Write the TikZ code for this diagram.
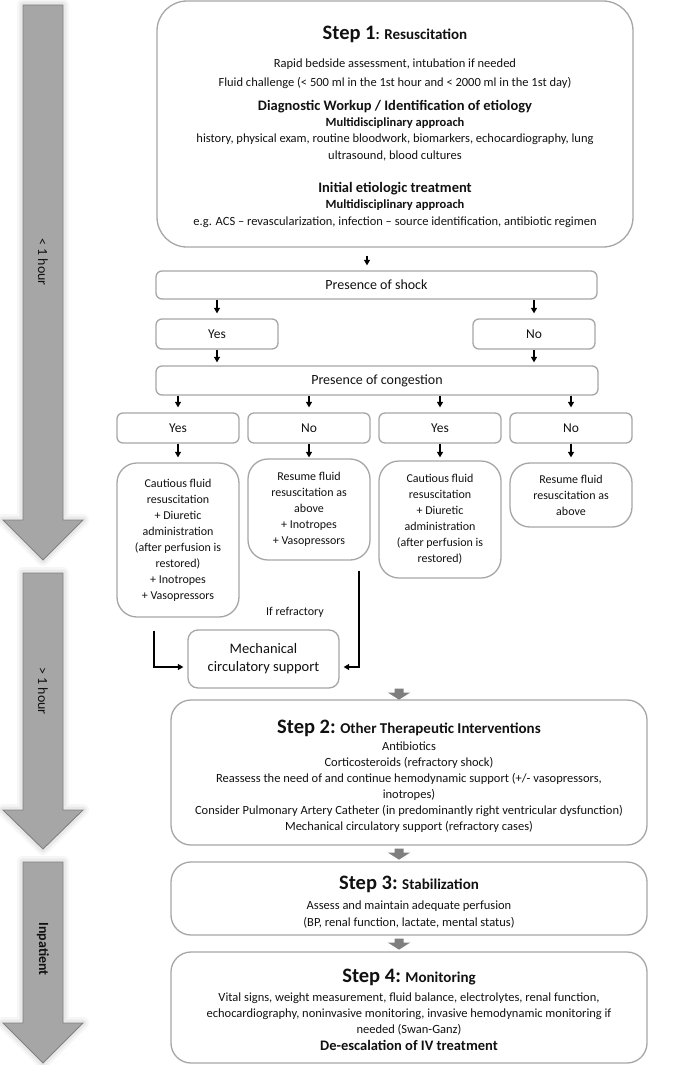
\documentclass[tikz,border=0pt]{standalone}
\usepackage{fontspec}
\setmainfont{Carlito}
\usetikzlibrary{arrows.meta}
\definecolor{boxline}{HTML}{A6A6A6}
\definecolor{bigfill}{HTML}{A6A6A6}
\definecolor{bigline}{HTML}{808080}
\definecolor{blockgrey}{HTML}{7F7F7F}
\definecolor{txt}{HTML}{111111}
\newcommand\fsz[2]{\fontsize{#1}{#2}\selectfont}
\begin{document}
\begin{tikzpicture}[x=1pt,y=-1pt,
  box/.style={draw=boxline, line width=1.3pt, rounded corners=#1, inner sep=0pt, text=txt, align=center},
  box/.default=6pt,
  arr/.style={draw=black, line width=1.1pt, -{Triangle[length=5.5pt,width=6pt]}},
  lbl/.style={anchor=base, inner sep=0pt, text=txt},
  bodytxt/.style={lbl, font=\fsz{12.5}{16}},
  hdtxt/.style={lbl, font=\fsz{14.5}{17}\bfseries},
  subhd/.style={lbl, font=\fsz{12.5}{15}\bfseries},
  bigarrow/.style={fill=bigfill, draw=bigline, line width=0.9pt},
  glow/.style={draw=black, opacity=#1, line join=round},
  blockarr/.style={fill=blockgrey}
]
\useasboundingbox (0,0) rectangle (685,1065);

% ---------- big time arrows ----------
\foreach \t/\b/\p in {5/520/560, 573/810/849, 862/1023/1063} {
  \draw[glow=0.035, line width=12pt] (23,\t) -- (63,\t) -- (63,\b) -- (83,\b) -- (43,\p) -- (3,\b) -- (23,\b) -- cycle;
  \draw[glow=0.05, line width=7pt] (23,\t) -- (63,\t) -- (63,\b) -- (83,\b) -- (43,\p) -- (3,\b) -- (23,\b) -- cycle;
  \draw[bigarrow] (23,\t) -- (63,\t) -- (63,\b) -- (83,\b) -- (43,\p) -- (3,\b) -- (23,\b) -- cycle;
}
\node[rotate=-90, font=\fsz{14}{16}, text=txt] (t1) at (43,262) {< 1 hour};
\node[rotate=-90, font=\fsz{14}{16}, text=txt] (t2) at (43,691) {> 1 hour};
\node[rotate=-90, font=\fsz{14}{16}\bfseries, text=txt] (t3) at (43,949) {Inpatient};

% ---------- Step 1 ----------
\node[box=30pt, minimum width=476pt, minimum height=246pt] (s1) at (395,124) {};
\node[lbl] (s1t) at (395,40) {{\fsz{20.5}{24}\bfseries Step 1}{\fsz{15}{18}\bfseries: Resuscitation}};
\node[bodytxt] (s1a) at (395,67) {Rapid bedside assessment, intubation if needed};
\node[bodytxt] (s1b) at (395,86) {Fluid challenge (< 500 ml in the 1st hour and < 2000 ml in the 1st day)};
\node[hdtxt] (s1c) at (395,110) {Diagnostic Workup / Identification of etiology};
\node[subhd] (s1d) at (395,126) {Multidisciplinary approach};
\node[bodytxt] (s1e) at (395,142) {history, physical exam, routine bloodwork, biomarkers, echocardiography, lung};
\node[bodytxt] (s1f) at (395,159) {ultrasound, blood cultures};
\node[hdtxt] (s1g) at (395,192) {Initial etiologic treatment};
\node[subhd] (s1h) at (395,208) {Multidisciplinary approach};
\node[bodytxt] (s1i) at (395,225) {e.g. ACS – revascularization, infection – source identification, antibiotic regimen};

% ---------- decision boxes ----------
\node[box, minimum width=441pt, minimum height=28pt, font=\fsz{14}{17}] (shock) at (376.5,285) {Presence of shock};
\node[box, minimum width=122pt, minimum height=30pt, font=\fsz{13.5}{16}] (sy) at (217,334) {Yes};
\node[box, minimum width=122pt, minimum height=30pt, font=\fsz{13.5}{16}] (sn) at (534,334) {No};
\node[box, minimum width=442pt, minimum height=29pt, font=\fsz{14}{17}] (cong) at (377,380.5) {Presence of congestion};
\node[box, minimum width=122pt, minimum height=30pt, font=\fsz{13.5}{16}] (y1) at (178,428) {Yes};
\node[box, minimum width=122pt, minimum height=30pt, font=\fsz{13.5}{16}] (n1) at (309,428) {No};
\node[box, minimum width=122pt, minimum height=30pt, font=\fsz{13.5}{16}] (y2) at (440,428) {Yes};
\node[box, minimum width=122pt, minimum height=30pt, font=\fsz{13.5}{16}] (n2) at (571,428) {No};

% ---------- outcome boxes ----------
\node[box=20pt, minimum width=122pt, minimum height=154pt, font=\fsz{12}{16}] (c1) at (178,540)
  {Cautious fluid\\resuscitation\\+ Diuretic\\administration\\(after perfusion is\\restored)\\+ Inotropes\\+ Vasopressors};
\node[box=20pt, minimum width=122pt, minimum height=101pt, font=\fsz{12}{16}] (r1) at (309,509.5)
  {Resume fluid\\resuscitation as\\above\\+ Inotropes\\+ Vasopressors};
\node[box=20pt, minimum width=122pt, minimum height=117pt, font=\fsz{12}{16}] (c2) at (440,519.5)
  {Cautious fluid\\resuscitation\\+ Diuretic\\administration\\(after perfusion is\\restored)};
\node[box=20pt, minimum width=122pt, minimum height=64pt, font=\fsz{12}{16}] (r2) at (571,495)
  {Resume fluid\\resuscitation as\\above};

\node[box=10pt, minimum width=151pt, minimum height=58pt, font=\fsz{14.5}{18}] (mcs) at (263.5,659)
  {Mechanical\\circulatory support};
\node[font=\fsz{12}{14}, text=txt, inner sep=0pt] (ifr) at (295,612) {If refractory};

% ---------- Steps 2-4 ----------
\node[box=20pt, minimum width=476pt, minimum height=145pt] (s2) at (409,772.5) {};
\node[lbl] (s2t) at (409,733) {{\fsz{20.5}{24}\bfseries Step 2:}{\fsz{15}{18}\bfseries{} Other Therapeutic Interventions}};
\node[bodytxt] (s2a) at (409,750) {Antibiotics};
\node[bodytxt] (s2b) at (409,766) {Corticosteroids (refractory shock)};
\node[bodytxt] (s2c) at (409,782) {Reassess the need of and continue hemodynamic support (+/- vasopressors,};
\node[bodytxt] (s2d) at (409,798) {inotropes)};
\node[bodytxt] (s2e) at (409,814) {Consider Pulmonary Artery Catheter (in predominantly right ventricular dysfunction)};
\node[bodytxt] (s2f) at (409,830) {Mechanical circulatory support (refractory cases)};

\node[box=20pt, minimum width=476pt, minimum height=73pt] (s3) at (409,898.5) {};
\node[lbl] (s3t) at (409,889) {{\fsz{20.5}{24}\bfseries Step 3:}{\fsz{15}{18}\bfseries{} Stabilization}};
\node[bodytxt] (s3a) at (409,909) {Assess and maintain adequate perfusion};
\node[bodytxt] (s3b) at (409,926) {(BP, renal function, lactate, mental status)};

\node[box=20pt, minimum width=476pt, minimum height=111pt] (s4) at (409,1007.5) {};
\node[lbl] (s4t) at (409,982) {{\fsz{20.5}{24}\bfseries Step 4:}{\fsz{15}{18}\bfseries{} Monitoring}};
\node[bodytxt] (s4a) at (409,1001) {Vital signs, weight measurement, fluid balance, electrolytes, renal function,};
\node[bodytxt] (s4b) at (409,1017) {echocardiography, noninvasive monitoring, invasive hemodynamic monitoring if};
\node[bodytxt] (s4c) at (409,1033) {needed (Swan-Ganz)};
\node[hdtxt] (s4d) at (409,1050) {De-escalation of IV treatment};

% ---------- connectors ----------
\draw[arr, shorten <=8pt, shorten >=5pt] (s1.south -| 367,0) -- (shock.north -| 367,0);
\draw[arr, shorten >=5pt] (sy.north |- shock.south) -- (sy.north);
\draw[arr, shorten >=5pt] (sn.north |- shock.south) -- (sn.north);
\draw[arr, shorten >=3pt] (sy.south) -- (sy.south |- cong.north);
\draw[arr, shorten >=3pt] (sn.south) -- (sn.south |- cong.north);
\foreach \b in {y1,n1,y2,n2} {
  \draw[arr, shorten >=5pt] (\b.north |- cong.south) -- (\b.north);
}
\draw[arr, shorten >=5pt] (y1.south) -- (c1.north);
\draw[arr, shorten >=1pt] (n1.south) -- (r1.north);
\draw[arr, shorten >=3pt] (y2.south) -- (c2.north);
\draw[arr, shorten >=5pt] (n2.south) -- (r2.north);

\draw[arr, shorten <=13pt, shorten >=4pt] (c1.south -| 154,0) |- ([yshift=-8pt]mcs.west);
\draw[arr, shorten <=10pt, shorten >=4pt] (r1.south -| 359,0) |- ([yshift=-8pt]mcs.east);

% small grey block arrows between the step boxes
\fill[blockarr] ([xshift=-10pt]s2.north |- mcs.south) ++(-4.5,0) -- ++(9,0) -- ++(0,4) -- ++(6.5,0) -- ++(-11,7) -- ++(-11,-7) -- ++(6.5,0) -- cycle;
\fill[blockarr] ([xshift=-10pt,yshift=-3pt]s2.south) ++(-4.5,0) -- ++(9,0) -- ++(0,4) -- ++(6.5,0) -- ++(-11,7) -- ++(-11,-7) -- ++(6.5,0) -- cycle;
\fill[blockarr] ([xshift=-10pt,yshift=-3pt]s3.south) ++(-4.5,0) -- ++(9,0) -- ++(0,4) -- ++(6.5,0) -- ++(-11,7) -- ++(-11,-7) -- ++(6.5,0) -- cycle;
\end{tikzpicture}
\end{document}
